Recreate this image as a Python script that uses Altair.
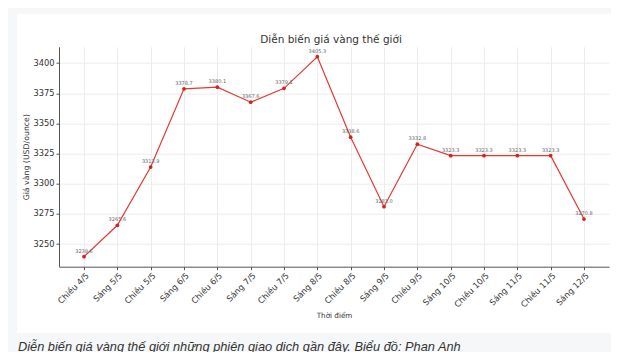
import altair as alt
import pandas as pd

labels = ["Chiều 4/5", "Sáng 5/5", "Chiều 5/5", "Sáng 6/5", "Chiều 6/5", "Sáng 7/5",
          "Chiều 7/5", "Sáng 8/5", "Chiều 8/5", "Sáng 9/5", "Chiều 9/5", "Sáng 10/5",
          "Chiều 10/5", "Sáng 11/5", "Chiều 11/5", "Sáng 12/5"]
prices = [3239.6, 3265.6, 3313.9, 3378.7, 3380.1, 3367.6, 3379.1, 3405.3,
          3338.6, 3281.0, 3332.8, 3323.3, 3323.3, 3323.3, 3323.3, 3270.8]
y_ticks = [3250, 3275, 3300, 3325, 3350, 3375, 3400]
title_text = ["Diễn biến giá vàng thế giới"]
y_title = "Giá vàng (USD/ounce)"
x_title = "Thời điểm"
caption = ["Diễn biến giá vàng thế giới những phiên giao dịch gần đây. Biểu đồ: Phan Anh"]

df = pd.DataFrame({"t": labels, "p": prices, "lbl": [f"{v:.1f}" for v in prices]})

FONT = "DejaVu Sans"
PAGE_GRAY = "#f6f7f9"

x_enc = alt.X("t:N", sort=labels,
              scale=alt.Scale(type="point", padding=0.75),
              axis=alt.Axis(title=x_title, labelAngle=315, labelAlign="right",
                            labelBaseline="top", labelFontSize=8.3, titleFontSize=7.2,
                            titlePadding=3, labelPadding=1, grid=True))
y_enc = alt.Y("p:Q", scale=alt.Scale(domain=[3231.3, 3413.6], nice=False, zero=False),
              axis=alt.Axis(title=y_title, values=y_ticks, format="d", labelFontSize=8.3,
                            titleFontSize=7.8, titlePadding=2, labelPadding=2))

one = pd.DataFrame({"a": [0]})
# gray page frame around the white figure (left, top and bottom strips)
left_strip = alt.Chart(one).mark_rect(fill=PAGE_GRAY).encode(
    x=alt.value(-51), x2=alt.value(-42), y=alt.value(-38.7), y2=alt.value(305.3))
top_strip = alt.Chart(one).mark_rect(fill=PAGE_GRAY).encode(
    x=alt.value(-51), x2=alt.value(552), y=alt.value(-38.7), y2=alt.value(-32.7))
bottom_strip = alt.Chart(one).mark_rect(fill=PAGE_GRAY).encode(
    x=alt.value(-51), x2=alt.value(552), y=alt.value(286.3), y2=alt.value(305.3))
right_strip = alt.Chart(one).mark_rect(fill=PAGE_GRAY).encode(
    x=alt.value(553), x2=alt.value(552), y=alt.value(-38.7), y2=alt.value(305.3))

ttl = alt.Chart(pd.DataFrame({"c": title_text})).mark_text(
    align="center", baseline="alphabetic", fontSize=10.5, font=FONT,
    color="#333333").encode(x=alt.value(272), y=alt.value(-4), text="c:N")

base = alt.Chart(df)
line = base.mark_line(color="#e33a34", strokeWidth=1.2).encode(x=x_enc, y=y_enc)
pts = base.mark_circle(size=14, color="#d91f1f", opacity=1).encode(x=x_enc, y=y_enc)
txt = base.mark_text(dy=-6, fontSize=5, color="#666666", font=FONT).encode(
    x=x_enc, y=y_enc, text="lbl:N")

cap = alt.Chart(pd.DataFrame({"c": caption})).mark_text(
    align="left", baseline="middle", fontStyle="italic", fontSize=12.8,
    font="Liberation Sans", color="#333333").encode(
    x=alt.value(-41), y=alt.value(299.8), text="c:N")

chart = alt.layer(left_strip, top_strip, bottom_strip, ttl, line, pts, txt, cap).properties(
    width=550, height=220,
    autosize="none",
    padding={"left": 51, "top": 38.7, "right": 2, "bottom": 85.3},
    background="white",
).configure_view(stroke="transparent").configure_axis(
    gridColor="#ececec", domainColor="#555555", tickColor="#555555", tickSize=3,
    labelFont=FONT, titleFont=FONT, labelColor="#333333", titleColor="#333333",
    titleFontWeight="normal", domainWidth=1
)

chart.save("out.html", embed_options={"renderer": "svg", "actions": False})
